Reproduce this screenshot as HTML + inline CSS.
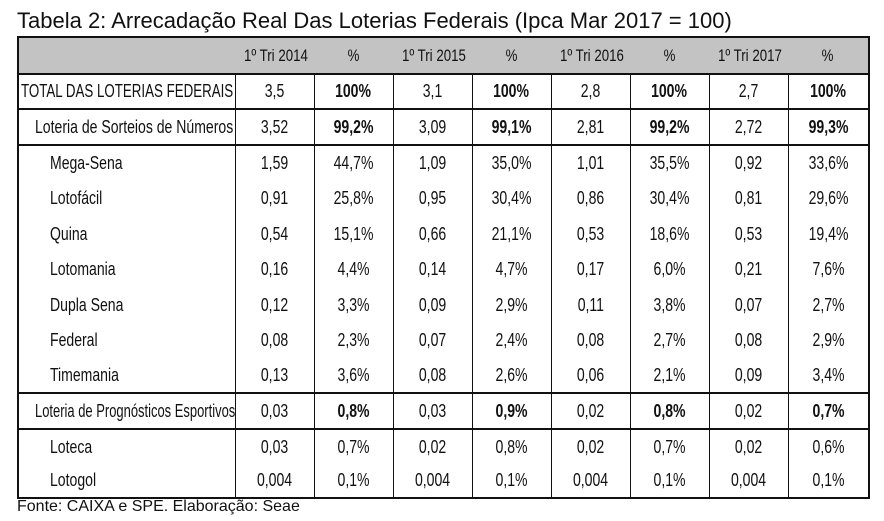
<!DOCTYPE html>
<html><head><meta charset="utf-8"><style>
body{margin:0;width:884px;height:521px;background:#fff;position:relative;overflow:hidden;font-family:"Liberation Sans",sans-serif;}
.title{position:absolute;left:17px;top:8px;font-size:22px;color:#111;white-space:nowrap;}
.foot{position:absolute;left:17px;top:498px;font-size:16px;color:#111;white-space:nowrap;}
table{position:absolute;left:17px;top:36px;width:851px;border-collapse:collapse;table-layout:fixed;font-family:"Liberation Sans",sans-serif;font-size:18px;color:#111;border:2px solid #111;}
td{border-left:1.5px solid #111;border-right:1.5px solid #111;text-align:center;padding:0;white-space:nowrap;overflow:visible;}
td span{display:inline-block;transform:scaleX(0.78);}
td.l span{transform-origin:0 50%;}
tr.h td{background:#c3c3c3;border-left:none;border-right:none;font-size:17px;}
tr.b td{border-bottom:2px solid #111;}
td.l{text-align:left;overflow:hidden;}
.i1{padding-left:16px}.i2{padding-left:31px}.i0{padding-left:2px}
b{font-weight:bold}
</style></head><body>
<div class="title">Tabela 2: Arrecadação Real Das Loterias Federais (Ipca Mar 2017 = 100)</div>
<table>
<colgroup><col style="width:217px"><col style="width:79px"><col style="width:79px"><col style="width:79px"><col style="width:79px"><col style="width:79px"><col style="width:79px"><col style="width:79px"><col style="width:81px"></colgroup>
<tr class="h b" style="height:37px"><td></td><td><span>1º Tri 2014</span></td><td><span>%</span></td><td><span>1º Tri 2015</span></td><td><span>%</span></td><td><span>1º Tri 2016</span></td><td><span>%</span></td><td><span>1º Tri 2017</span></td><td><span>%</span></td></tr>
<tr class="b" style="height:35px"><td class="l i0"><span style="transform:scaleX(0.74)">TOTAL DAS LOTERIAS FEDERAIS</span></td><td><span>3,5</span></td><td><span><b>100%</b></span></td><td><span>3,1</span></td><td><span><b>100%</b></span></td><td><span>2,8</span></td><td><span><b>100%</b></span></td><td><span>2,7</span></td><td><span><b>100%</b></span></td></tr>
<tr class="b" style="height:36px"><td class="l i1"><span>Loteria de Sorteios de Números</span></td><td><span>3,52</span></td><td><span><b>99,2%</b></span></td><td><span>3,09</span></td><td><span><b>99,1%</b></span></td><td><span>2,81</span></td><td><span><b>99,2%</b></span></td><td><span>2,72</span></td><td><span><b>99,3%</b></span></td></tr>
<tr style="height:36px"><td class="l i2"><span>Mega-Sena</span></td><td><span>1,59</span></td><td><span>44,7%</span></td><td><span>1,09</span></td><td><span>35,0%</span></td><td><span>1,01</span></td><td><span>35,5%</span></td><td><span>0,92</span></td><td><span>33,6%</span></td></tr>
<tr style="height:35px"><td class="l i2"><span>Lotofácil</span></td><td><span>0,91</span></td><td><span>25,8%</span></td><td><span>0,95</span></td><td><span>30,4%</span></td><td><span>0,86</span></td><td><span>30,4%</span></td><td><span>0,81</span></td><td><span>29,6%</span></td></tr>
<tr style="height:36px"><td class="l i2"><span>Quina</span></td><td><span>0,54</span></td><td><span>15,1%</span></td><td><span>0,66</span></td><td><span>21,1%</span></td><td><span>0,53</span></td><td><span>18,6%</span></td><td><span>0,53</span></td><td><span>19,4%</span></td></tr>
<tr style="height:35px"><td class="l i2"><span>Lotomania</span></td><td><span>0,16</span></td><td><span>4,4%</span></td><td><span>0,14</span></td><td><span>4,7%</span></td><td><span>0,17</span></td><td><span>6,0%</span></td><td><span>0,21</span></td><td><span>7,6%</span></td></tr>
<tr style="height:36px"><td class="l i2"><span>Dupla Sena</span></td><td><span>0,12</span></td><td><span>3,3%</span></td><td><span>0,09</span></td><td><span>2,9%</span></td><td><span>0,11</span></td><td><span>3,8%</span></td><td><span>0,07</span></td><td><span>2,7%</span></td></tr>
<tr style="height:35px"><td class="l i2"><span>Federal</span></td><td><span>0,08</span></td><td><span>2,3%</span></td><td><span>0,07</span></td><td><span>2,4%</span></td><td><span>0,08</span></td><td><span>2,7%</span></td><td><span>0,08</span></td><td><span>2,9%</span></td></tr>
<tr class="b" style="height:35px"><td class="l i2"><span>Timemania</span></td><td><span>0,13</span></td><td><span>3,6%</span></td><td><span>0,08</span></td><td><span>2,6%</span></td><td><span>0,06</span></td><td><span>2,1%</span></td><td><span>0,09</span></td><td><span>3,4%</span></td></tr>
<tr class="b" style="height:36px"><td class="l i1"><span style="transform:scaleX(0.72)">Loteria de Prognósticos Esportivos</span></td><td><span>0,03</span></td><td><span><b>0,8%</b></span></td><td><span>0,03</span></td><td><span><b>0,9%</b></span></td><td><span>0,02</span></td><td><span><b>0,8%</b></span></td><td><span>0,02</span></td><td><span><b>0,7%</b></span></td></tr>
<tr style="height:35px"><td class="l i2"><span>Loteca</span></td><td><span>0,03</span></td><td><span>0,7%</span></td><td><span>0,02</span></td><td><span>0,8%</span></td><td><span>0,02</span></td><td><span>0,7%</span></td><td><span>0,02</span></td><td><span>0,6%</span></td></tr>
<tr style="height:34px"><td class="l i2"><span>Lotogol</span></td><td><span>0,004</span></td><td><span>0,1%</span></td><td><span>0,004</span></td><td><span>0,1%</span></td><td><span>0,004</span></td><td><span>0,1%</span></td><td><span>0,004</span></td><td><span>0,1%</span></td></tr>
</table>
<div class="foot">Fonte: CAIXA e SPE. Elaboração: Seae</div>
</body></html>
